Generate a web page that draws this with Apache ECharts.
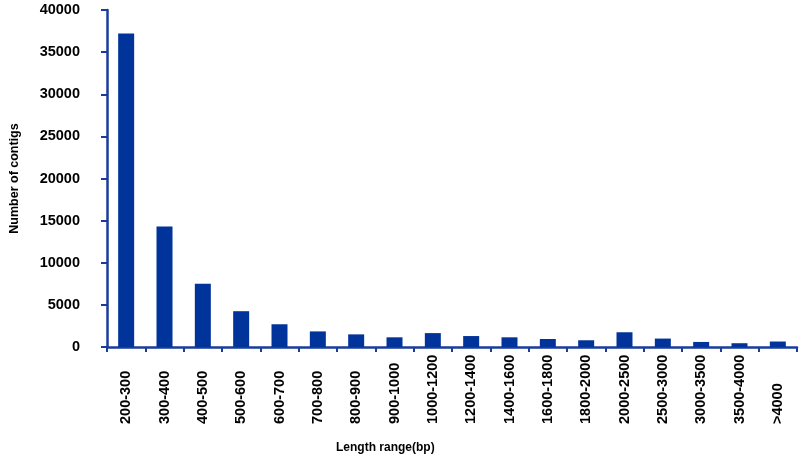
<!DOCTYPE html>
<html>
<head>
<meta charset="utf-8">
<title>Length range of contigs</title>
<script src="https://cdn.jsdelivr.net/npm/echarts@6/dist/echarts.min.js"></script>
<style>
	html, body { margin: 0; padding: 0; background: #fff; }
	#chart { width: 800px; height: 459px; }
</style>
</head>
<body>
<div id="chart"></div>
<script>
// data
var categories = ['200-300', '300-400', '400-500', '500-600', '600-700', '700-800', '800-900', '900-1000',
	'1000-1200', '1200-1400', '1400-1600', '1600-1800', '1800-2000', '2000-2500', '2500-3000',
	'3000-3500', '3500-4000', '>4000'];
var contigs = [37200, 14300, 7500, 4250, 2700, 1850, 1500, 1150, 1650, 1300, 1150, 950, 800, 1750, 1000, 600, 450, 650];
var yTicks = { min: 0, max: 40000, interval: 5000 };

var FONT = '"Liberation Sans Narrow", "Arial Narrow", "Liberation Sans", Arial, sans-serif';
var BLUE = '#00349a';
var AXIS = '#1a3c9c';

var chart = echarts.init(document.getElementById('chart'));

var option = {
	animation: false,
	backgroundColor: '#fff',
	title: {
		text: 'Length range(bp)',
		left: 336,
		top: 442,
		padding: 0,
		textStyle: { fontFamily: FONT, fontSize: 12, fontWeight: 'bold', color: '#000' }
	},
	grid: {
		left: 106,
		right: 3,
		top: 10,
		bottom: 112,
		containLabel: false
	},
	xAxis: {
		type: 'category',
		data: categories,
		boundaryGap: true,
		axisLine: { lineStyle: { color: AXIS, width: 2.5 } },
		axisTick: { show: true, length: 5, lineStyle: { color: AXIS, width: 2 } },
		axisLabel: {
			interval: 0,
			rotate: 90,
			align: 'left',
			verticalAlign: 'middle',
			margin: 77,
			color: '#000',
			fontFamily: FONT,
			fontSize: 14.5,
			fontWeight: 'bold'
		}
	},
	yAxis: {
		type: 'value',
		min: yTicks.min,
		max: yTicks.max,
		interval: yTicks.interval,
		name: 'Number of contigs',
		nameLocation: 'middle',
		nameGap: 86,
		nameTextStyle: { fontFamily: FONT, fontSize: 12.5, fontWeight: 'bold', color: '#000' },
		axisLine: { show: true, lineStyle: { color: AXIS, width: 2.5 } },
		axisTick: { show: true, length: 6, lineStyle: { color: AXIS, width: 2 } },
		splitLine: { show: false },
		axisLabel: {
			margin: 27,
			color: '#000',
			fontFamily: FONT,
			fontSize: 14.5,
			fontWeight: 'bold',
			formatter: function (v) { return String(v); }
		}
	},
	series: [
		{
			name: 'contigs',
			type: 'bar',
			data: contigs,
			barWidth: 16,
			itemStyle: { color: BLUE }
		}
	]
};

chart.setOption(option);
window.addEventListener('resize', function () {
	chart.resize();
});
</script>
</body>
</html>
